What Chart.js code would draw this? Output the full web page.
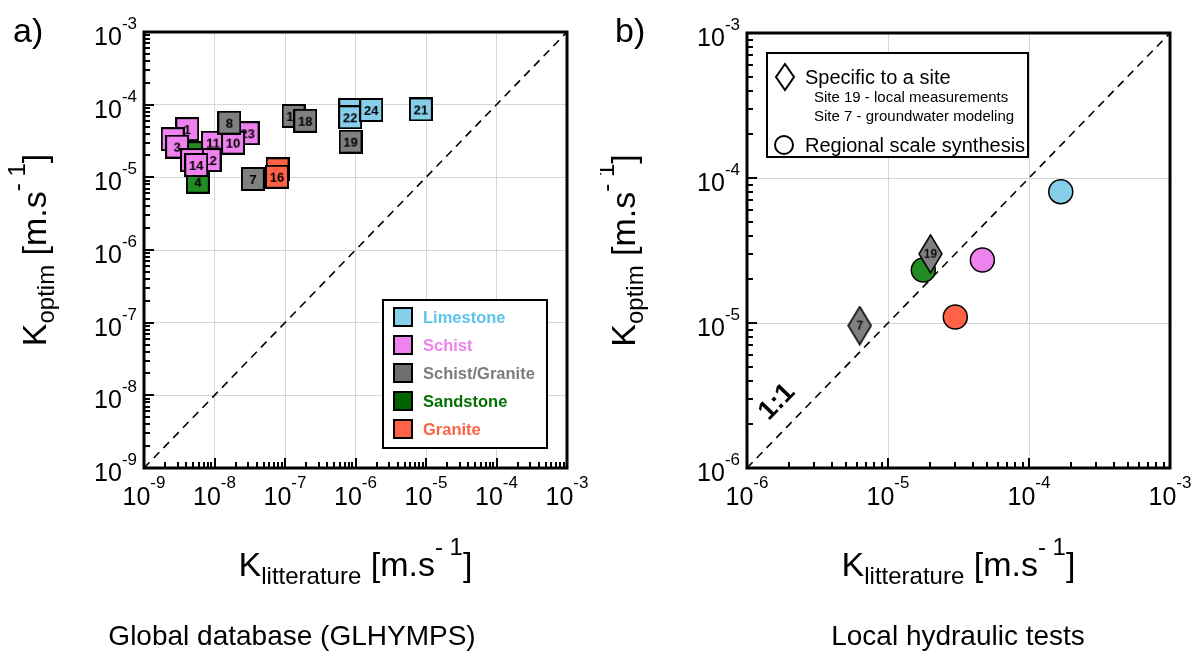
<!DOCTYPE html>
<html>
<head>
<meta charset="utf-8">
<title>K optim vs K litterature</title>
<script src="https://cdn.jsdelivr.net/npm/chart.js@4.4.1/dist/chart.umd.min.js"></script>
<style>
  html, body { margin: 0; padding: 0; background: #fff; }
  #wrap { position: relative; width: 1197px; height: 654px; overflow: hidden; }
  #wrap canvas { position: absolute; top: 0; }
</style>
</head>
<body>
<div id="wrap">
  <canvas id="panelA" width="600" height="654" style="left:0"></canvas>
  <canvas id="panelB" width="597" height="654" style="left:600px"></canvas>
</div>
<script>
// ---- panel a : global database (GLHYMPS), K in m/s ----
const limestoneIds = ["20", "22", "24", "21"];
const limestoneLit = [8.4e-7, 8.4e-7, 1.67e-6, 8.45e-6];
const limestoneOpt = [8.45e-5, 6.7e-5, 8.45e-5, 8.6e-5];

const schistIds = ["1", "2", "3", "23", "11", "10", "12", "13", "14"];
const schistLit = [4.1e-9, 2.55e-9, 2.95e-9, 2.95e-8, 9.5e-9, 1.83e-8, 8.5e-9, 4.8e-9, 5.5e-9];
const schistOpt = [4.6e-5, 3.35e-5, 2.65e-5, 4.05e-5, 3.0e-5, 3.0e-5, 1.73e-5, 1.73e-5, 1.48e-5];

const schistGraniteIds = ["8", "7", "17", "18", "19"];
const schistGraniteLit = [1.62e-8, 3.5e-8, 1.32e-7, 1.94e-7, 8.5e-7];
const schistGraniteOpt = [5.65e-5, 9.5e-6, 7.0e-5, 6.0e-5, 3.1e-5];

const sandstoneIds = ["5", "4"];
const sandstoneLit = [5.0e-9, 5.8e-9];
const sandstoneOpt = [2.15e-5, 8.7e-6];

const graniteIds = ["15", "16"];
const graniteLit = [7.85e-8, 7.7e-8];
const graniteOpt = [1.29e-5, 1.02e-5];

const oneToOneA = [1e-9, 1e-3];
const decadesA = [-9, -8, -7, -6, -5, -4, -3];

// ---- panel b : local hydraulic tests ----
const siteIds = ["19", "7"];
const siteLit = [2.0e-5, 6.3e-6];
const siteOpt = [3.0e-5, 9.6e-6];

const regionalTypes = ["Limestone", "Schist", "Sandstone", "Granite"];
const regionalLit = [1.68e-4, 4.67e-5, 1.78e-5, 3.0e-5];
const regionalOpt = [8.05e-5, 2.72e-5, 2.32e-5, 1.1e-5];

const oneToOneB = [1e-6, 1e-3];
const decadesB = [-6, -5, -4, -3];
const oneToOneLabelAt = [1.63e-6, 2.85e-6];

const legendNames = ["Limestone", "Schist", "Schist/Granite", "Sandstone", "Granite"];

// ---- styles ----
const FONT = '"Liberation Sans", Arial, Helvetica, sans-serif';
const fill = {
  Limestone: "#87ceeb", Schist: "#ee82ee", "Schist/Granite": "#808080",
  Sandstone: "#228b22", Granite: "#ff6347",
};
const swatch = {
  Limestone: "#87ceeb", Schist: "#ee82ee", "Schist/Granite": "#6e6e6e",
  Sandstone: "#006400", Granite: "#ff6347",
};
const legendInk = {
  Limestone: "#5ec3ec", Schist: "#ee82ee", "Schist/Granite": "#7c7c7c",
  Sandstone: "#007000", Granite: "#ff6347",
};

function squareMark(color, id) {
  const c = document.createElement("canvas");
  c.width = 24; c.height = 24;
  const g = c.getContext("2d");
  g.fillStyle = color; g.fillRect(1, 1, 22, 22);
  g.lineWidth = 2; g.strokeStyle = "#000"; g.strokeRect(1, 1, 22, 22);
  g.fillStyle = "#000"; g.font = `bold 13px ${FONT}`;
  g.textAlign = "center"; g.textBaseline = "middle";
  g.fillText(id, 12, 13);
  return c;
}

function diamondMark(color, id) {
  const c = document.createElement("canvas");
  c.width = 25; c.height = 40;
  const g = c.getContext("2d");
  g.beginPath();
  g.moveTo(12.5, 1); g.lineTo(24, 20); g.lineTo(12.5, 39); g.lineTo(1, 20); g.closePath();
  g.fillStyle = color; g.fill();
  g.lineWidth = 1.5; g.strokeStyle = "#000"; g.stroke();
  g.fillStyle = "#111"; g.font = `bold 12px ${FONT}`;
  g.textAlign = "center"; g.textBaseline = "middle";
  g.fillText(id, 12.5, 20.5);
  return c;
}

function points(xs, ys) {
  return xs.map((x, i) => ({ x, y: ys[i] }));
}

function squares(label, ids, xs, ys, order) {
  const marks = ids.map(id => squareMark(fill[label], id));
  return {
    label, order, data: points(xs, ys),
    pointStyle: ctx => marks[ctx.dataIndex] || "rect",
    pointRadius: 12, pointHoverRadius: 12,
  };
}

function dashed(vals) {
  return {
    label: "1:1", order: 20, data: points(vals, vals), showLine: true,
    borderColor: "#000", borderWidth: 1.6, borderDash: [8, 6], pointRadius: 0,
  };
}

function logScale(exps) {
  return {
    type: "logarithmic",
    min: Math.pow(10, exps[0]), max: Math.pow(10, exps[exps.length - 1]),
    afterBuildTicks: s => { s.ticks = exps.map(e => ({ value: Math.pow(10, e) })); },
    ticks: { display: false },
    grid: { color: "#d6d6d6", lineWidth: 1, drawTicks: false },
    border: { display: false },
  };
}

// text made of runs: [text, size, dy, weight]
function rich(ctx, runs, x, y, align) {
  let w = 0;
  const widths = runs.map(r => {
    ctx.font = `${r[3] || ""} ${r[1]}px ${FONT}`;
    const m = ctx.measureText(r[0]).width;
    w += m;
    return m;
  });
  let cx = align === "center" ? x - w / 2 : align === "right" ? x - w : x;
  ctx.textAlign = "left"; ctx.textBaseline = "alphabetic";
  runs.forEach((r, i) => {
    ctx.font = `${r[3] || ""} ${r[1]}px ${FONT}`;
    ctx.fillText(r[0], cx, y + r[2]);
    cx += widths[i];
  });
}

const titleRuns = sub => [["K", 34, 0], [sub, 24, 8], [" [m.s", 34, 0], ["- 1", 24, -21], ["]", 34, 0]];

function decor(spec) {
  return {
    id: "decor",
    afterDatasetsDraw(chart) {
      const { ctx, chartArea: a, scales: { x, y } } = chart;
      const exps = spec.exps;
      ctx.save();
      ctx.fillStyle = "#000"; ctx.strokeStyle = "#000";

      // inward ticks, bottom and left
      ctx.lineWidth = 2;
      ctx.beginPath();
      for (let e = exps[0]; e < exps[exps.length - 1]; e++) {
        for (let k = 1; k < 10; k++) {
          const v = k * Math.pow(10, e), len = k === 1 ? 10 : 6;
          const px = Math.round(x.getPixelForValue(v)), py = Math.round(y.getPixelForValue(v));
          ctx.moveTo(px, a.bottom); ctx.lineTo(px, a.bottom - len);
          ctx.moveTo(a.left, py); ctx.lineTo(a.left + len, py);
        }
      }
      ctx.stroke();

      // frame
      ctx.lineWidth = 3;
      ctx.strokeRect(a.left, a.top, a.right - a.left, a.bottom - a.top);

      // tick labels 10^e
      exps.forEach(e => {
        const v = Math.pow(10, e);
        rich(ctx, [["10", 25, 0], [String(e), 17, -17]], x.getPixelForValue(v), a.bottom + 37, "center");
        rich(ctx, [["10", 25, 0], [String(e), 17, -16]], a.left - 7, y.getPixelForValue(v) + 13, "right");
      });

      // axis titles
      rich(ctx, titleRuns("litterature"), (a.left + a.right) / 2, 576, "center");
      ctx.save();
      ctx.translate(spec.yTitleX, (a.top + a.bottom) / 2);
      ctx.rotate(-Math.PI / 2);
      rich(ctx, titleRuns("optim"), 0, 0, "center");
      ctx.restore();

      // panel letter and caption
      rich(ctx, [[spec.letter, 34, 0]], spec.letterX, 42, "left");
      rich(ctx, [[spec.caption, 28, 0]], spec.captionX, 645, "center");

      spec.extra(ctx, chart);
      ctx.restore();
    },
  };
}

function legendA(ctx) {
  ctx.fillStyle = "#fff";
  ctx.fillRect(383, 300, 164, 148);
  ctx.lineWidth = 2; ctx.strokeStyle = "#000";
  ctx.strokeRect(383, 300, 164, 148);
  legendNames.forEach((n, i) => {
    const cy = 317 + i * 28;
    ctx.fillStyle = swatch[n];
    ctx.fillRect(394, cy - 9, 18, 18);
    ctx.strokeRect(394, cy - 9, 18, 18);
    ctx.fillStyle = legendInk[n];
    ctx.font = `bold 16.5px ${FONT}`;
    ctx.textAlign = "left"; ctx.textBaseline = "middle";
    ctx.fillText(n, 423, cy + 1);
  });
}

function legendB(ctx, chart) {
  ctx.fillStyle = "#fff";
  ctx.fillRect(167, 53, 261, 104);
  ctx.lineWidth = 2; ctx.strokeStyle = "#000";
  ctx.strokeRect(167, 53, 261, 104);
  // diamond key
  ctx.beginPath();
  ctx.moveTo(185, 64); ctx.lineTo(194, 77); ctx.lineTo(185, 90); ctx.lineTo(176, 77); ctx.closePath();
  ctx.stroke();
  // circle key
  ctx.beginPath();
  ctx.arc(184, 145, 9, 0, Math.PI * 2);
  ctx.stroke();
  ctx.fillStyle = "#000";
  rich(ctx, [["Specific to a site", 20, 0]], 205, 84, "left");
  rich(ctx, [["Site 19 - local measurements", 15, 0]], 214, 102, "left");
  rich(ctx, [["Site 7 - groundwater modeling", 15, 0]], 214, 121, "left");
  rich(ctx, [["Regional scale synthesis", 20, 0]], 205, 152, "left");

  // 1:1 annotation
  const { x, y } = chart.scales;
  const ang = Math.atan2(y.getPixelForValue(1e-6) - y.getPixelForValue(1e-3),
                         x.getPixelForValue(1e-3) - x.getPixelForValue(1e-6));
  ctx.save();
  ctx.translate(x.getPixelForValue(oneToOneLabelAt[0]), y.getPixelForValue(oneToOneLabelAt[1]));
  ctx.rotate(-ang);
  ctx.font = `bold 27px ${FONT}`;
  ctx.textAlign = "center"; ctx.textBaseline = "middle";
  ctx.fillText("1:1", 0, 0);
  ctx.restore();
}

const common = {
  responsive: false,
  animation: false,
  events: [],
  plugins: { legend: { display: false }, tooltip: { enabled: false } },
};

new Chart(document.getElementById("panelA"), {
  type: "scatter",
  data: {
    datasets: [
      dashed(oneToOneA),
      squares("Sandstone", sandstoneIds, sandstoneLit, sandstoneOpt, 6),
      squares("Schist", schistIds, schistLit, schistOpt, 5),
      squares("Granite", graniteIds, graniteLit, graniteOpt, 4),
      squares("Schist/Granite", schistGraniteIds, schistGraniteLit, schistGraniteOpt, 3),
      squares("Limestone", limestoneIds, limestoneLit, limestoneOpt, 2),
    ],
  },
  options: {
    ...common,
    layout: { padding: { left: 144, right: 33, top: 32, bottom: 186 } },
    scales: { x: logScale(decadesA), y: logScale(decadesA) },
  },
  plugins: [decor({
    exps: decadesA, letter: "a)", letterX: 13, yTitleX: 46,
    caption: "Global database (GLHYMPS)", captionX: 292, extra: legendA,
  })],
});

const siteMarks = siteIds.map(id => diamondMark(fill["Schist/Granite"], id));

new Chart(document.getElementById("panelB"), {
  type: "scatter",
  data: {
    datasets: [
      dashed(oneToOneB),
      {
        label: "Regional scale synthesis", order: 5,
        data: points(regionalLit, regionalOpt),
        pointStyle: "circle", pointRadius: 12, pointHoverRadius: 12,
        backgroundColor: regionalTypes.map(t => fill[t]),
        borderColor: "#000", borderWidth: 1.5,
      },
      {
        label: "Specific to a site", order: 1,
        data: points(siteLit, siteOpt),
        pointStyle: ctx => siteMarks[ctx.dataIndex] || "rectRot",
        pointRadius: 12, pointHoverRadius: 12,
      },
    ],
  },
  options: {
    ...common,
    layout: { padding: { left: 147, right: 27, top: 33, bottom: 186 } },
    scales: { x: logScale(decadesB), y: logScale(decadesB) },
  },
  plugins: [decor({
    exps: decadesB, letter: "b)", letterX: 15, yTitleX: 35,
    caption: "Local hydraulic tests", captionX: 358, extra: legendB,
  })],
});
</script>
</body>
</html>
